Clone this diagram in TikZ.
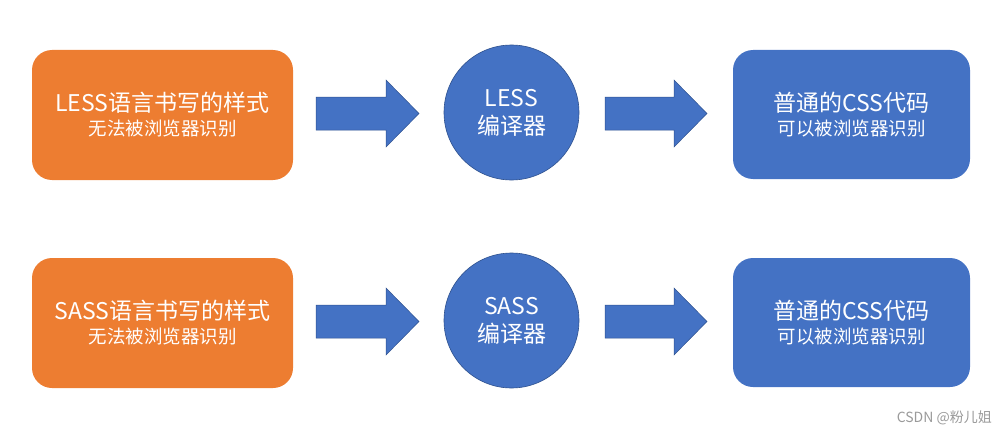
\documentclass[tikz,border=0pt]{standalone}
\usepackage{fontspec}
\setmainfont{Noto Sans CJK SC}
\definecolor{orng}{HTML}{ED7D31}
\definecolor{blu}{HTML}{4472C4}
\definecolor{bluedge}{HTML}{2F528F}
\definecolor{wmgray}{HTML}{9A9A9A}
\tikzset{
  basebox/.style={rounded corners=20pt, text=white, align=center, inner sep=0pt,
    font=\fontsize{23}{24}\selectfont},
  orangebox/.style={basebox, fill=orng, minimum width=261pt, minimum height=130pt},
  bluebox/.style={basebox, fill=blu, minimum width=237pt, minimum height=129pt},
  compiler/.style={circle, fill=blu, draw=bluedge, line width=0.6pt, minimum size=135pt,
    text=white, align=center, inner sep=0pt, font=\fontsize{23}{28}\selectfont},
  blockarrow/.style={fill=blu, draw=bluedge, line width=0.5pt},
  small/.style={}
}
\newcommand{\subline}[1]{{\fontsize{18.5}{24}\selectfont #1}}
\newcommand{\blockarr}[3]{% x start, center y, tip x
  \draw[blockarrow] (#1,#2-16.5) -- (#3-33,#2-16.5) -- (#3-33,#2-33.5) -- (#3,#2)
    -- (#3-33,#2+33.5) -- (#3-33,#2+16.5) -- (#1,#2+16.5) -- cycle;}
\begin{document}
\begin{tikzpicture}[x=1pt,y=-1pt]
\useasboundingbox (0,0) rectangle (1007,436);
% row 1
\node[orangebox] (src1) at (162.5,115) {LESS语言书写的样式\\\subline{无法被浏览器识别}};
\node[compiler] (cmp1) at (511.5,112.5) {LESS\\编译器};
\node[bluebox] (out1) at (851.5,114.5) {普通的CSS代码\\\subline{可以被浏览器识别}};
\blockarr{316}{113.5}{419}
\blockarr{605}{113.5}{707}
% row 2
\node[orangebox] (src2) at (162.5,323) {SASS语言书写的样式\\\subline{无法被浏览器识别}};
\node[compiler] (cmp2) at (511.5,320.5) {SASS\\编译器};
\node[bluebox] (out2) at (851.5,322.5) {普通的CSS代码\\\subline{可以被浏览器识别}};
\blockarr{316}{321.5}{419}
\blockarr{605}{321.5}{707}
% watermark
\node[text=wmgray, font=\fontsize{14}{16}\selectfont, anchor=east, inner sep=0pt] (wm) at (992,418) {CSDN @粉儿姐};
\end{tikzpicture}
\end{document}
